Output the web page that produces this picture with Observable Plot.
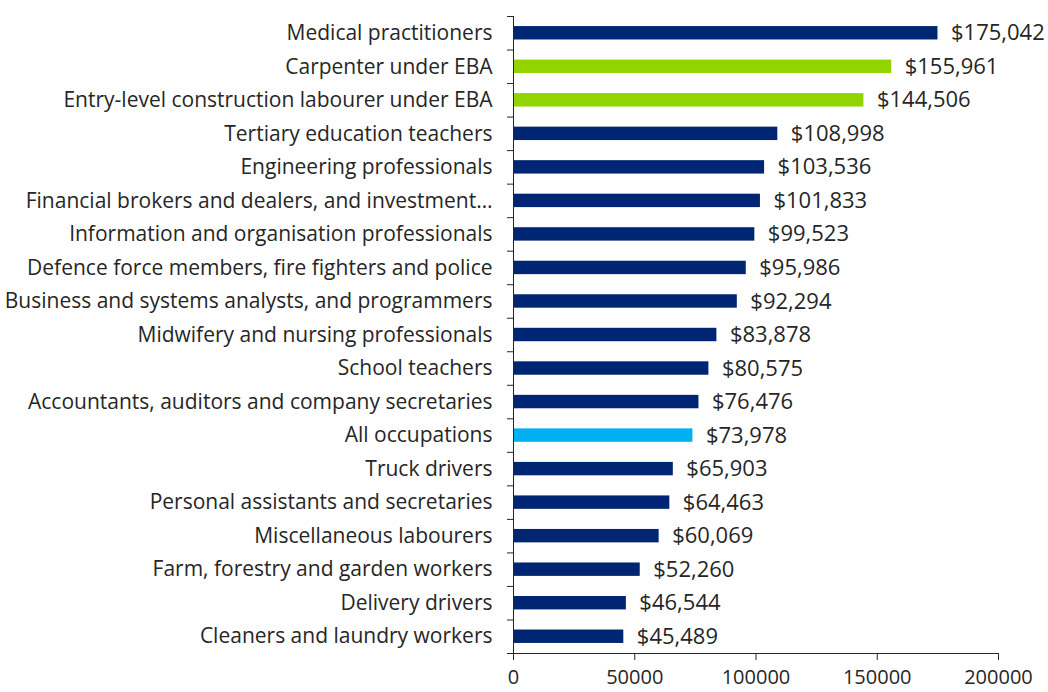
<!DOCTYPE html>
<html>
<head>
<meta charset="utf-8">
<script src="https://cdn.jsdelivr.net/npm/d3@7"></script>
<script src="https://cdn.jsdelivr.net/npm/@observablehq/plot@0.6"></script>
<style>
  html, body { margin: 0; padding: 0; background: #fff; }
  #chart svg { display: block; }
</style>
</head>
<body>
<div id="chart"></div>
<script>
const categories = [
  "Medical practitioners",
  "Carpenter under EBA",
  "Entry-level construction labourer under EBA",
  "Tertiary education teachers",
  "Engineering professionals",
  "Financial brokers and dealers, and investment…",
  "Information and organisation professionals",
  "Defence force members, fire fighters and police",
  "Business and systems analysts, and programmers",
  "Midwifery and nursing professionals",
  "School teachers",
  "Accountants, auditors and company secretaries",
  "All occupations",
  "Truck drivers",
  "Personal assistants and secretaries",
  "Miscellaneous labourers",
  "Farm, forestry and garden workers",
  "Delivery drivers",
  "Cleaners and laundry workers"
];
const values = [175042, 155961, 144506, 108998, 103536, 101833, 99523, 95986, 92294, 83878, 80575, 76476, 73978, 65903, 64463, 60069, 52260, 46544, 45489];
const groups = ["occ", "eba", "eba", "occ", "occ", "occ", "occ", "occ", "occ", "occ", "occ", "occ", "all", "occ", "occ", "occ", "occ", "occ", "occ"];
const groupDomain = ["occ", "eba", "all"];
const groupColors = ["#002673", "#92d400", "#00b0f0"];
const xTicks = [0, 50000, 100000, 150000, 200000];

const data = categories.map((c, i) => ({category: c, value: values[i], group: groups[i]}));

const W = 1048, H = 692, mt = 16, mb = 39, ml = 513, mr = 50;
const step = (H - mt - mb) / categories.length;
const font = "'Open Sans', sans-serif";

const chart = Plot.plot({
  width: W,
  height: H,
  marginTop: mt,
  marginBottom: mb,
  marginLeft: ml,
  marginRight: mr,
  style: {fontFamily: font, color: "#262626", background: "#fff", overflow: "visible"},
  x: {domain: [0, 200000], ticks: xTicks, tickFormat: d3.format("d")},
  y: {domain: categories, paddingInner: 0.6, paddingOuter: 0.3, round: false},
  color: {domain: groupDomain, range: groupColors},
  marks: [
    Plot.barX(data, {x: "value", y: "category", fill: "group"}),
    Plot.text(data, {x: "value", y: "category", text: d => "$" + d3.format(",")(d.value), textAnchor: "start", dx: 13, fontSize: 22, fill: "#262626"}),
    Plot.axisY({tickSize: 0, tickPadding: 21, fontSize: 21, label: null, fill: "#262626"}),
    Plot.axisY({tickSize: 6, tickFormat: () => null, dy: -step / 2, label: null, stroke: "#262626"}),
    Plot.axisY({ticks: [categories[categories.length - 1]], tickSize: 6, tickFormat: () => null, dy: step / 2, label: null, stroke: "#262626"}),
    Plot.ruleX([0], {stroke: "#262626"}),
    Plot.frame({anchor: "bottom", stroke: "#262626"}),
    Plot.axisX({ticks: xTicks, tickFormat: d3.format("d"), tickSize: 7, tickPadding: 9, fontSize: 20, label: null, stroke: "#262626", fill: "#262626"})
  ]
});
document.getElementById("chart").appendChild(chart);
</script>
</body>
</html>
